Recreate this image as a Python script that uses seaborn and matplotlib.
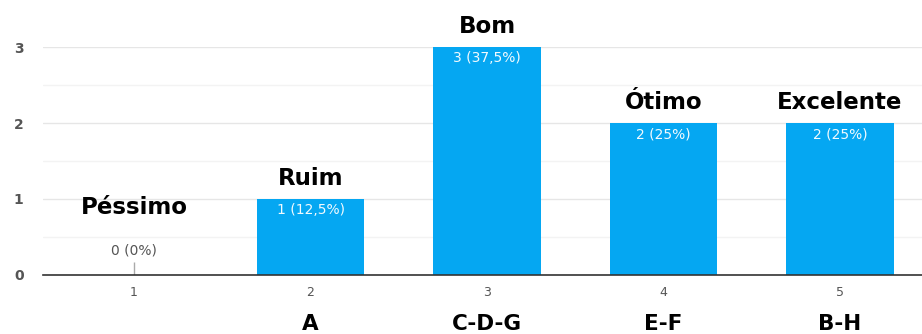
import numpy as np
import matplotlib
matplotlib.use("Agg")
import matplotlib.pyplot as plt
import seaborn as sns

# datos del grafico
notas = ["1", "2", "3", "4", "5"]
respostas = [0, 1, 3, 2, 2]
etiquetas_barra = ["0 (0%)", "1 (12,5%)", "3 (37,5%)", "2 (25%)", "2 (25%)"]
conceitos = ["Péssimo", "Ruim", "Bom", "Ótimo", "Excelente"]
grupos = ["", "A", "C-D-G", "E-F", "B-H"]

azul = "#05a7f2"

sns.set_style("white")
plt.rcParams['font.family'] = ['DejaVu Sans']

fig = plt.figure(figsize=(9.22, 3.34), dpi=100)
ax = fig.add_axes([0.0466, 0.177, 0.9534, 0.682])

sns.barplot(x=notas, y=respostas, color=azul, width=0.61, saturation=1,
            linewidth=0, ax=ax)

ax.set_xlim(-0.516, 4.465)
ax.set_ylim(0, 3)

# rejilla principal y secundaria
ax.set_yticks([0, 1, 2, 3])
ax.set_yticks([0.5, 1.5, 2.5], minor=True)
ax.grid(axis='y', which='major', color='#e6e6e6', linewidth=1)
ax.grid(axis='y', which='minor', color='#f3f3f3', linewidth=1)
ax.set_axisbelow(True)

for s in ['top', 'right', 'left']:
    ax.spines[s].set_visible(False)
ax.spines['bottom'].set_color('#333333')
ax.spines['bottom'].set_linewidth(1.2)

ax.tick_params(axis='x', length=0, pad=8, labelsize=9, labelcolor='#555555')
ax.tick_params(axis='y', which='both', length=0, pad=14, labelsize=10, labelcolor='#555555')
for t in ax.get_yticklabels():
    t.set_fontweight('bold')
ax.set_xlabel('')
ax.set_ylabel('')

for i, (v, lab, nome, g) in enumerate(zip(respostas, etiquetas_barra, conceitos, grupos)):
    if v > 0:
        ax.annotate(lab, (i, v), xytext=(0, -3), textcoords='offset points',
                    ha='center', va='top', color='white', fontsize=10, alpha=0.95)
        base = v
    else:
        # marca para valor cero
        ax.vlines(i, 0, 0.17, color='#aaaaaa', linewidth=1)
        ax.annotate(lab, (i, 0.17), xytext=(0, 3), textcoords='offset points',
                    ha='center', va='bottom', color='#555555', fontsize=10)
        base = 0.62
    ax.annotate(nome, (i, base), xytext=(0, 6.5), textcoords='offset points',
                ha='center', va='bottom', fontsize=16.5, fontweight='bold',
                color='black', annotation_clip=False)
    if g:
        ax.annotate(g, (i, -0.215), xycoords=('data', 'axes fraction'),
                    ha='center', va='center', fontsize=15.5, fontweight='bold',
                    color='black', annotation_clip=False)

plt.savefig('out.png', dpi=100)
plt.close()
